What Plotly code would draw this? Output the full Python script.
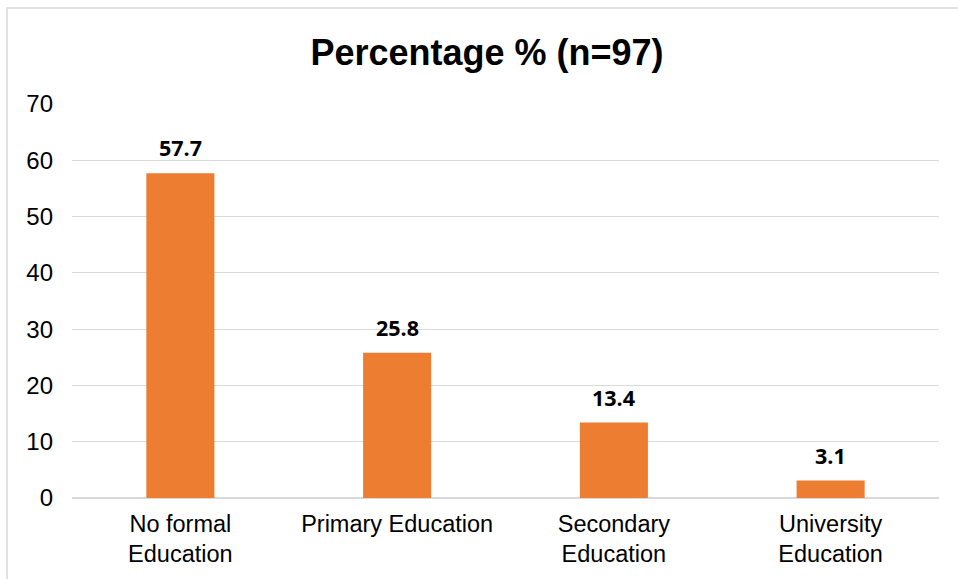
import plotly.graph_objects as go

categories = ["No formal<br>Education", "Primary Education", "Secondary<br>Education", "University<br>Education"]
values = [57.7, 25.8, 13.4, 3.1]
value_labels = ["57.7", "25.8", "13.4", "3.1"]
y_ticks = [0, 10, 20, 30, 40, 50, 60, 70]

W, H = 958, 579
ML, MR, MT, MB = 72, 19, 104, 81

fig = go.Figure()
fig.add_trace(go.Bar(
    x=categories, y=values,
    marker=dict(color="#ED7D31", line=dict(width=0)),
    hoverinfo="x+y",
))

for c, v, t in zip(categories, values, value_labels):
    fig.add_annotation(x=c, y=v, text="<b>%s</b>" % t, showarrow=False,
                       yanchor="bottom", yshift=9,
                       font=dict(family="Open Sans, Lato, sans-serif", size=21.5, color="#000000"))

pw = W - ML - MR
ph = H - MT - MB
# chart border (light grey frame, partially cut off at right/bottom)
fig.add_shape(type="rect", xref="paper", yref="paper",
              x0=(7 - ML) / pw, x1=(W + 5 - ML) / pw,
              y0=-(H + 5 - MT - ph) / ph, y1=1 + (MT - 8) / ph,
              line=dict(color="#d9d9d9", width=1.5), layer="below")

fig.update_layout(
    width=W, height=H,
    margin=dict(l=ML, r=MR, t=MT, b=MB),
    paper_bgcolor="white", plot_bgcolor="white",
    bargap=0.686,
    showlegend=False,
    title=dict(text="<b>Percentage % (n=97)</b>", xref="container", yref="container",
               x=487 / W, xanchor="center", y=1 - 52 / H, yanchor="middle",
               font=dict(family="Liberation Sans, Arial, sans-serif", size=36, color="#000000")),
    font=dict(family="Liberation Sans, Arial, sans-serif", color="#000000"),
)
fig.update_yaxes(range=[0, 70], tickvals=y_ticks, showgrid=True, gridcolor="#d9d9d9", gridwidth=1,
                 zeroline=True, zerolinecolor="#d9d9d9", zerolinewidth=1.5,
                 showline=False, ticks="", ticklabelstandoff=18, automargin=False,
                 tickfont=dict(family="Liberation Sans, Arial, sans-serif", size=24, color="#000000"))
fig.update_xaxes(showline=False, ticks="", showgrid=False, ticklabelstandoff=9, automargin=False,
                 tickfont=dict(family="Liberation Sans, Arial, sans-serif", size=23.5, color="#000000"))

fig.write_html("out.html")
